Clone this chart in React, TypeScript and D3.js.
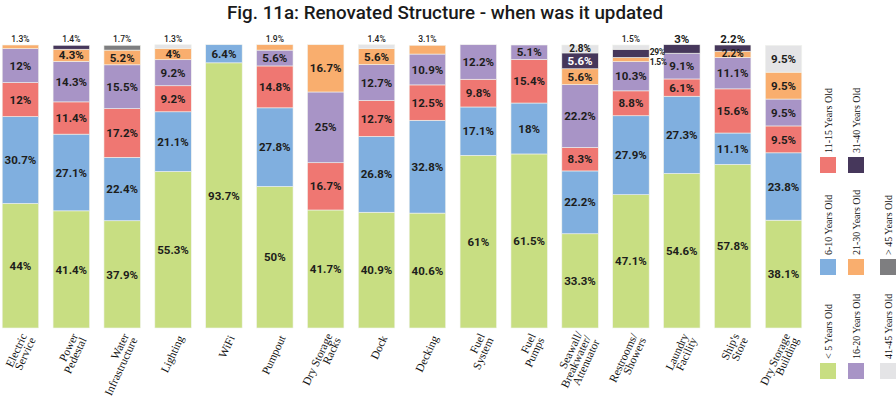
import React from "react";
import * as d3 from "d3";

const title = "Fig. 11a: Renovated Structure - when was it updated";

const categories = [
  "Electric\nService",
  "Power\nPedestal",
  "Water\nInfrastructure",
  "Lighting",
  "WiFi",
  "Pumpout",
  "Dry Storage\nRacks",
  "Dock",
  "Decking",
  "Fuel\nSystem",
  "Fuel\nPumps",
  "Seawall/\nBreakwater/\nAttenuator",
  "Restrooms/\nShowers",
  "Laundry\nFacility",
  "Ship's\nStore",
  "Dry Storage\nBuilding",
];

const seriesKeys = [
  "< 5 Years Old",
  "6-10 Years Old",
  "11-15 Years Old",
  "16-20 Years Old",
  "21-30 Years Old",
  "31-40 Years Old",
  "41-45 Years Old",
  "> 45 Years Old",
];

const seriesColors = [
  "#c8de82",
  "#80afdf",
  "#ef7772",
  "#a894c6",
  "#f9ae6e",
  "#46375b",
  "#e4e4e6",
  "#7e7e80",
];

const lt5 = [44, 41.4, 37.9, 55.3, 93.7, 50, 41.7, 40.9, 40.6, 61, 61.5, 33.3, 47.1, 54.6, 57.8, 38.1];
const y6to10 = [30.7, 27.1, 22.4, 21.1, 6.4, 27.8, 0, 26.8, 32.8, 17.1, 18, 22.2, 27.9, 27.3, 11.1, 23.8];
const y11to15 = [12, 11.4, 17.2, 9.2, 0, 14.8, 16.7, 12.7, 12.5, 9.8, 15.4, 8.3, 8.8, 6.1, 15.6, 9.5];
const y16to20 = [12, 14.3, 15.5, 9.2, 0, 5.6, 25, 12.7, 10.9, 12.2, 5.1, 22.2, 10.3, 9.1, 11.1, 9.5];
const y21to30 = [1.3, 4.3, 5.2, 4, 0, 1.9, 16.7, 5.6, 3.1, 0, 0, 5.6, 1.5, 0, 2.2, 9.5];
const y31to40 = [0, 1.4, 0, 0, 0, 0, 0, 0, 0, 0, 0, 5.6, 2.9, 3, 2.2, 0];
const y41to45 = [0, 0, 0, 1.3, 0, 0, 0, 1.4, 0, 0, 0, 2.8, 1.5, 0, 0, 9.5];
const gt45 = [0, 0, 1.7, 0, 0, 0, 0, 0, 0, 0, 0, 0, 0, 0, 0, 0];

const seriesValues = [lt5, y6to10, y11to15, y16to20, y21to30, y31to40, y41to45, gt45];

// label placement exceptions: [category index, series index]
const insideSmall = [[11, 6], [14, 4]];
const sideLabels = [[12, 5], [12, 4]];
const bigTopLabels = [[13, 5], [14, 5]];
const labelOverrides = [[12, 5, "29%"]];

const W = 896;
const H = 396;

const has = (list: any[], c: number, s: number) => list.some((p) => p[0] === c && p[1] === s);

export default function App() {
  const rows = categories.map((c, i) => {
    const r: any = { cat: c };
    seriesKeys.forEach((k, s) => (r[k] = seriesValues[s][i]));
    return r;
  });
  const stack = d3.stack<any>().keys(seriesKeys);
  const stacked = stack(rows);

  const x = d3
    .scaleBand<string>()
    .domain(categories)
    .range([-5, 809])
    .paddingInner(0.283)
    .paddingOuter(0.1415);
  const y = d3.scaleLinear().domain([0, 100]).range([328, 45]);

  const labelFont = "Roboto, 'DejaVu Sans', sans-serif";
  const serif = "'Liberation Serif', 'DejaVu Serif', serif";

  const fmt = (c: number, s: number, v: number) => {
    const o = labelOverrides.find((p) => p[0] === c && p[1] === s);
    return o ? (o[2] as string) : `${v}%`;
  };

  const insideLabels: any[] = [];
  const topLabels: any[] = [];
  const sides: any[] = [];
  stacked.forEach((layer, s) => {
    layer.forEach((d, c) => {
      const v = seriesValues[s][c];
      if (!v) return;
      const bx = x(categories[c])!;
      const bw = x.bandwidth();
      const text = fmt(c, s, v);
      const mid = (y(d[0]) + y(d[1])) / 2;
      if (has(sideLabels, c, s)) {
        sides.push({ c, s, text, x: bx + bw + 0.5, y: mid });
      } else if (v >= 4) {
        insideLabels.push({ c, s, text, x: bx + bw / 2, y: mid, size: 11.5 });
      } else if (has(insideSmall, c, s)) {
        insideLabels.push({ c, s, text, x: bx + bw / 2, y: mid - 0.8, size: 10 });
      } else {
        topLabels.push({ c, s, text, x: bx + bw / 2, big: has(bigTopLabels, c, s) });
      }
    });
  });
  sides.sort((a, b) => a.y - b.y);
  for (let i = 0; i < sides.length; i++) {
    if (i === 0) sides[i].y -= 1.5;
    else sides[i].y = Math.max(sides[i].y + 2.5, sides[i - 1].y + 10);
  }

  const totals = categories.map((_, c) => d3.sum(seriesValues, (arr) => arr[c]));

  const legendCols = [828, 856, 888];
  const legendRows = [363, 259, 157];

  return (
    <svg
      width={W}
      height={H}
      style={{ position: "absolute", left: 0, top: 0, background: "#fff" }}
    >
      <rect width={W} height={H} fill="#fff" />
      <text
        x={445}
        y={19}
        textAnchor="middle"
        fontFamily={labelFont}
        fontWeight={500}
        fontSize={19}
        textLength={436}
        lengthAdjust="spacingAndGlyphs"
        fill="#1a1a1a"
      >
        {title}
      </text>

      {stacked.map((layer, s) => (
        <g key={s} fill={seriesColors[s]}>
          {layer.map((d, c) =>
            d[1] - d[0] > 0 ? (
              <rect
                key={c}
                x={x(categories[c])}
                y={y(d[1])}
                width={x.bandwidth()}
                height={y(d[0]) - y(d[1])}
                stroke="#f2f4ee"
                strokeWidth={0.6}
              />
            ) : null
          )}
        </g>
      ))}

      {insideLabels.map((l, i) => (
        <text
          key={i}
          x={l.x}
          y={l.y}
          dy="0.36em"
          textAnchor="middle"
          fontFamily={labelFont}
          fontWeight={700}
          fontSize={l.size}
          fill={l.s === 5 ? "#ffffff" : "#1d1d1b"}
        >
          {l.text}
        </text>
      ))}

      {topLabels.map((l, i) => (
        <text
          key={i}
          x={l.x}
          y={y(totals[l.c]) - (l.big ? 2 : 3)}
          textAnchor="middle"
          fontFamily={labelFont}
          fontWeight={l.big ? 700 : 500}
          fontSize={l.big ? 11.5 : 8.5}
          fill="#1d1d1b"
        >
          {l.text}
        </text>
      ))}

      {sides.map((l, i) => (
        <text
          key={i}
          x={l.x}
          y={l.y}
          dy="0.36em"
          textAnchor="start"
          fontFamily={labelFont}
          fontWeight={700}
          fontSize={8.5}
          letterSpacing={-0.4}
          fill="#1d1d1b"
        >
          {l.text}
        </text>
      ))}

      {categories.map((c) => {
        const lines = c.split("\n");
        const cx = x(c)! + x.bandwidth() / 2;
        return (
          <g key={c} transform={`translate(${cx + 7.5},${336}) rotate(-65)`}>
            <text textAnchor="end" fontFamily={serif} fontSize={11.5} fill="#111">
              {lines.map((ln, i) => (
                <tspan key={i} x={0} y={(i - (lines.length - 1) / 2) * 9.5} dy="0.35em">
                  {ln}
                </tspan>
              ))}
            </text>
          </g>
        );
      })}

      {seriesKeys.map((k, i) => {
        const col = Math.floor(i / 3);
        const row = i % 3;
        const cx = legendCols[col];
        const top = legendRows[row];
        return (
          <g key={k}>
            <rect x={cx - 8} y={top} width={16} height={16} fill={seriesColors[i]} />
            <text
              transform={`translate(${cx + 3.5},${top - 4}) rotate(-90)`}
              fontFamily={serif}
              fontSize={10}
              fill="#111"
            >
              {k}
            </text>
          </g>
        );
      })}
    </svg>
  );
}
